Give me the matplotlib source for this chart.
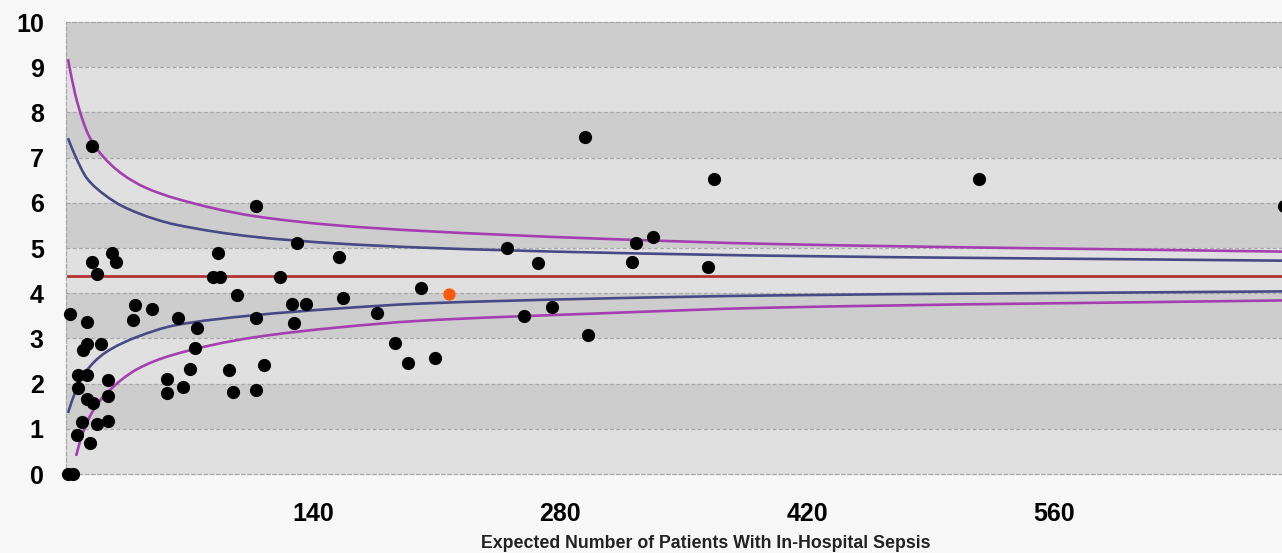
import matplotlib
matplotlib.use('Agg')
from matplotlib import pyplot as plt
from matplotlib.path import Path
from matplotlib.patches import PathPatch

plt.rcParams['font.family'] = ['Liberation Sans Narrow', 'Liberation Sans', 'DejaVu Sans']

# hospitals: expected sepsis patients vs observed rate
exp_n = [1.1, 4.0, 2.3, 11.9, 9.6, 11.9, 19.8, 6.8, 11.9, 23.8, 6.8, 11.9, 15.3, 23.8,
         9.1, 17.6, 23.8, 6.2, 13.6, 14.7, 14.7, 17.6, 26.1, 28.3, 39.1, 48.7, 38.0,
         57.2, 57.2, 66.3, 70.3, 63.5, 74.3, 73.1, 92.4, 94.7, 107.7, 112.2, 107.7,
         107.7, 86.2, 83.3, 87.3, 96.9, 121.3, 128.1, 129.2, 130.9, 136.0, 154.7,
         157.0, 176.3, 186.5, 193.8, 201.2, 209.2, 250.0, 259.6, 267.5, 275.5,
         294.2, 295.9, 320.8, 323.1, 332.7, 363.9, 367.3, 517.5, 690.4]
rate = [0, 0, 3.53, 3.37, 2.75, 2.88, 2.88, 2.20, 2.20, 2.08, 1.91, 1.66, 1.57, 1.73,
        1.15, 1.11, 1.18, 0.86, 0.69, 7.25, 4.68, 4.43, 4.88, 4.70, 3.75, 3.66, 3.41,
        2.11, 1.80, 1.93, 2.33, 3.46, 3.22, 2.79, 2.31, 1.82, 1.86, 2.42, 3.46,
        5.94, 4.90, 4.35, 4.35, 3.97, 4.35, 3.77, 3.33, 5.10, 3.77, 4.81,
        3.90, 3.57, 2.90, 2.46, 4.12, 2.57, 5.01, 3.50, 4.66, 3.70,
        7.45, 3.08, 4.68, 5.12, 5.25, 4.57, 6.52, 6.52, 5.94]
# highlighted hospital
own_x = [217.1]
own_y = [3.99]

mean_rate = 4.39
mean_x = [1.1, 689]

up3_x = [1.1, 5.1, 9.1, 12.5, 18.1, 31.7, 44.8, 61.8, 106, 153.6, 200.6, 299.8, 399, 689]
up3_y = [9.18, 8.42, 7.87, 7.52, 7.16, 6.64, 6.34, 6.10, 5.71, 5.50, 5.38, 5.21, 5.09, 4.92]
up2_x = [1.1, 5.1, 11.9, 22.1, 31.7, 50.4, 61.8, 106, 153.6, 200.6, 299.8, 399, 689]
up2_y = [7.43, 7.05, 6.54, 6.17, 5.93, 5.64, 5.52, 5.25, 5.10, 5.01, 4.90, 4.83, 4.72]
lo2_x = [1.1, 5.1, 10.8, 22.1, 40.8, 61.8, 106, 153.6, 200.6, 299.8, 399, 689]
lo2_y = [1.35, 1.80, 2.24, 2.68, 3.04, 3.29, 3.51, 3.66, 3.77, 3.88, 3.95, 4.04]
lo3_x = [5.7, 9.1, 14.7, 22.1, 40.8, 60.1, 106, 153.6, 200.6, 299.8, 399, 689]
lo3_y = [0.40, 0.86, 1.36, 1.75, 2.33, 2.63, 3.02, 3.24, 3.39, 3.55, 3.68, 3.84]

xticks = [140, 280, 420, 560]
yticks = list(range(0, 11))


def smooth_line(ax, xs, ys, color):
    # smoothed line like the spreadsheet: bezier segments through the points
    n = len(xs)
    d = [(ys[i+1]-ys[i])/(xs[i+1]-xs[i]) for i in range(n-1)]
    m = [d[0]]
    for i in range(1, n-1):
        if d[i-1]*d[i] <= 0:
            m.append(0)
        else:
            h0 = xs[i]-xs[i-1]
            h1 = xs[i+1]-xs[i]
            w1 = 2*h1+h0
            w2 = h1+2*h0
            m.append((w1+w2)/(w1/d[i-1]+w2/d[i]))
    m.append(d[-1])
    verts = [(xs[0], ys[0])]
    codes = [Path.MOVETO]
    for i in range(n-1):
        h = xs[i+1]-xs[i]
        verts += [(xs[i]+h/3, ys[i]+m[i]*h/3),
                  (xs[i+1]-h/3, ys[i+1]-m[i+1]*h/3),
                  (xs[i+1], ys[i+1])]
        codes += [Path.CURVE4]*3
    ax.add_patch(PathPatch(Path(verts, codes), fill=False, edgecolor=color, lw=1.9, zorder=2))


fig = plt.figure(figsize=(12.82, 5.53), dpi=100, facecolor='#f8f8f8')
ax = fig.add_axes([66/1282, 1-474/553, 1-66/1282, (474-22)/553])
ax.set_xlim(0, 689)
ax.set_ylim(0, 10)

# alternating bands
for i in range(10):
    ax.axhspan(i, i+1, color='#cdcdcd' if i % 2 else '#e0e0e0', lw=0, zorder=0)
for i in range(1, 10):
    ax.axhline(i, color='#a8a8a8', lw=0.9, ls=(0, (3, 2)), zorder=1)

for s in ['top', 'bottom', 'left']:
    ax.spines[s].set_color('#a8a8a8')
    ax.spines[s].set_linestyle((0, (3, 2)))
    ax.spines[s].set_linewidth(0.9)
ax.spines['right'].set_visible(False)

smooth_line(ax, up3_x, up3_y, '#a43fb0')
smooth_line(ax, lo3_x, lo3_y, '#a43fb0')
smooth_line(ax, up2_x, up2_y, '#474a86')
smooth_line(ax, lo2_x, lo2_y, '#474a86')
ax.plot(mean_x, [mean_rate, mean_rate], color='#b33232', lw=2.0, zorder=2)

ax.scatter(exp_n, rate, s=72, color='black', zorder=3, clip_on=False)
ax.scatter(own_x, own_y, s=62, color='#ff5a0a', zorder=3, clip_on=False)

ax.set_xticks(xticks)
ax.set_yticks(yticks)
ax.tick_params(length=0)
ax.tick_params(axis='y', pad=16)
ax.tick_params(axis='x', pad=20)
for t in ax.get_xticklabels() + ax.get_yticklabels():
    t.set_fontsize(18)
    t.set_fontweight('bold')

fig.text(706/1282, 1-543/553, 'Expected Number of Patients With In-Hospital Sepsis',
         ha='center', va='center', fontsize=12.8, fontweight='bold', color='#222222')

plt.savefig('out.png', dpi=100, facecolor=fig.get_facecolor())
